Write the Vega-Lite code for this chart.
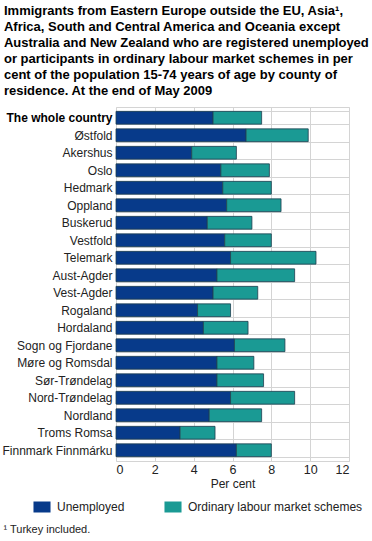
{
  "$schema": "https://vega.github.io/schema/vega-lite/v6.json",
  "padding": {"left": 1, "top": 4, "right": 6, "bottom": 2},
  "background": "white",
  "title": {
    "text": "¹ Turkey included.",
    "orient": "bottom",
    "anchor": "start",
    "frame": "bounds",
    "fontSize": 11,
    "fontWeight": "normal",
    "font": "Liberation Sans",
    "color": "#222",
    "offset": 11,
    "dx": 2
  },
  "config": {
    "font": "Liberation Sans",
    "view": {"stroke": "#d4d4d4", "strokeWidth": 1}
  },
  "vconcat": [
    {
      "title": {
        "text": [
          "Immigrants from  Eastern Europe outside the EU, Asia¹,",
          "Africa, South and Central America and Oceania except",
          "Australia and New Zealand who are registered unemployed",
          "or participants in ordinary labour market schemes in per",
          "cent of the population 15-74 years of age by county of",
          "residence. At the end of May 2009"
        ],
        "anchor": "start",
        "frame": "bounds",
        "fontSize": 13,
        "fontWeight": "bold",
        "lineHeight": 16,
        "color": "#000",
        "offset": 3,
        "dx": 2
      },
      "width": 233,
      "height": 354,
      "data": {
        "values": [
          {"county": "The whole country", "type": "Unemployed", "value": 5.0},
          {"county": "The whole country", "type": "Ordinary labour market schemes", "value": 2.5},
          {"county": "Østfold", "type": "Unemployed", "value": 6.7},
          {"county": "Østfold", "type": "Ordinary labour market schemes", "value": 3.2},
          {"county": "Akershus", "type": "Unemployed", "value": 3.9},
          {"county": "Akershus", "type": "Ordinary labour market schemes", "value": 2.3},
          {"county": "Oslo", "type": "Unemployed", "value": 5.4},
          {"county": "Oslo", "type": "Ordinary labour market schemes", "value": 2.5},
          {"county": "Hedmark", "type": "Unemployed", "value": 5.5},
          {"county": "Hedmark", "type": "Ordinary labour market schemes", "value": 2.5},
          {"county": "Oppland", "type": "Unemployed", "value": 5.7},
          {"county": "Oppland", "type": "Ordinary labour market schemes", "value": 2.8},
          {"county": "Buskerud", "type": "Unemployed", "value": 4.7},
          {"county": "Buskerud", "type": "Ordinary labour market schemes", "value": 2.3},
          {"county": "Vestfold", "type": "Unemployed", "value": 5.6},
          {"county": "Vestfold", "type": "Ordinary labour market schemes", "value": 2.4},
          {"county": "Telemark", "type": "Unemployed", "value": 5.9},
          {"county": "Telemark", "type": "Ordinary labour market schemes", "value": 4.4},
          {"county": "Aust-Agder", "type": "Unemployed", "value": 5.2},
          {"county": "Aust-Agder", "type": "Ordinary labour market schemes", "value": 4.0},
          {"county": "Vest-Agder", "type": "Unemployed", "value": 5.0},
          {"county": "Vest-Agder", "type": "Ordinary labour market schemes", "value": 2.3},
          {"county": "Rogaland", "type": "Unemployed", "value": 4.2},
          {"county": "Rogaland", "type": "Ordinary labour market schemes", "value": 1.7},
          {"county": "Hordaland", "type": "Unemployed", "value": 4.5},
          {"county": "Hordaland", "type": "Ordinary labour market schemes", "value": 2.3},
          {"county": "Sogn og Fjordane", "type": "Unemployed", "value": 6.1},
          {"county": "Sogn og Fjordane", "type": "Ordinary labour market schemes", "value": 2.6},
          {"county": "Møre og Romsdal", "type": "Unemployed", "value": 5.2},
          {"county": "Møre og Romsdal", "type": "Ordinary labour market schemes", "value": 1.9},
          {"county": "Sør-Trøndelag", "type": "Unemployed", "value": 5.2},
          {"county": "Sør-Trøndelag", "type": "Ordinary labour market schemes", "value": 2.4},
          {"county": "Nord-Trøndelag", "type": "Unemployed", "value": 5.9},
          {"county": "Nord-Trøndelag", "type": "Ordinary labour market schemes", "value": 3.3},
          {"county": "Nordland", "type": "Unemployed", "value": 4.8},
          {"county": "Nordland", "type": "Ordinary labour market schemes", "value": 2.7},
          {"county": "Troms Romsa", "type": "Unemployed", "value": 3.3},
          {"county": "Troms Romsa", "type": "Ordinary labour market schemes", "value": 1.8},
          {"county": "Finnmark Finnmárku", "type": "Unemployed", "value": 6.2},
          {"county": "Finnmark Finnmárku", "type": "Ordinary labour market schemes", "value": 1.8}
        ]
      },
      "mark": {"type": "bar", "stroke": "#1f3f4f", "strokeWidth": 0.8},
      "encoding": {
        "y": {
          "field": "county",
          "type": "nominal",
          "sort": null,
          "scale": {"paddingInner": 0.27, "paddingOuter": 0.25},
          "axis": {
            "title": null,
            "ticks": false,
            "domain": false,
            "grid": true,
            "tickBand": "extent",
            "gridColor": "#d4d4d4",
            "labelFontSize": 12,
            "labelColor": {"condition": {"test": "datum.value == 'The whole country'", "value": "#000"}, "value": "#222"},
            "labelFontWeight": {"condition": {"test": "datum.value == 'The whole country'", "value": "bold"}, "value": "normal"},
            "labelPadding": 4,
            "labelLimit": 200
          }
        },
        "x": {
          "field": "value",
          "type": "quantitative",
          "stack": "zero",
          "scale": {"domain": [0, 12], "nice": false},
          "axis": {
            "title": "Per cent",
            "values": [0, 2, 4, 6, 8, 10, 12],
            "ticks": false,
            "domain": false,
            "grid": true,
            "gridColor": "#d4d4d4",
            "labelFontSize": 12.5,
            "labelColor": "#222",
            "labelPadding": 2,
            "titleFontSize": 12,
            "titleFontWeight": "normal",
            "titleColor": "#222",
            "titlePadding": 3
          }
        },
        "color": {
          "field": "type",
          "type": "nominal",
          "sort": ["Unemployed", "Ordinary labour market schemes"],
          "scale": {
            "domain": ["Unemployed", "Ordinary labour market schemes"],
            "range": ["#073a8a", "#1a9a94"]
          },
          "legend": {
            "title": null,
            "orient": "none",
            "direction": "horizontal",
            "legendX": -80,
            "legendY": 394,
            "symbolType": "M-1.55,-1H1.55V1H-1.55Z",
            "symbolSize": 121,
            "symbolStrokeWidth": 0,
            "symbolOpacity": 1,
            "labelFontSize": 12,
            "labelColor": "#222",
            "labelOffset": 9,
            "labelLimit": 300,
            "columnPadding": 39
          }
        },
        "order": {"field": "type", "sort": "descending"}
      }
    }
  ]
}
